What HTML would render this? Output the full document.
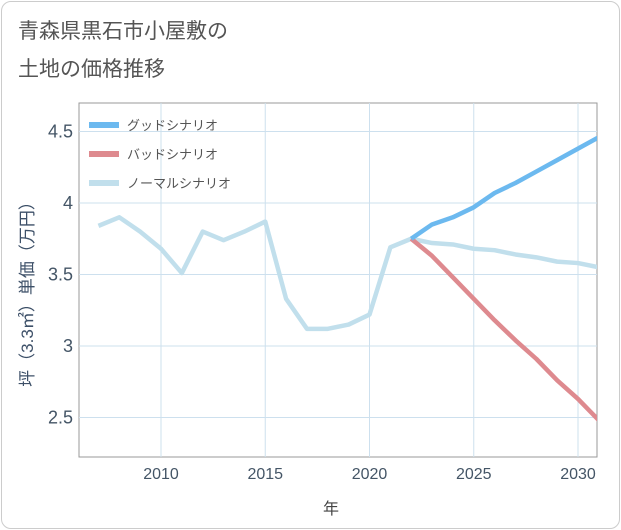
<!DOCTYPE html>
<html><head><meta charset="utf-8"><style>
body{margin:0;background:#fff;font-family:"Liberation Sans","Noto Sans CJK JP",sans-serif}
#card{position:absolute;left:1px;top:1px;width:617px;height:526px;border:1px solid #ccc;border-radius:10px;background:#fff}
</style></head><body>
<div id="card"></div>
<svg id="c" width="621" height="530" style="position:absolute;left:0;top:0" font-family="Liberation Sans, Noto Sans CJK JP, sans-serif">
<text x="18" y="38" font-size="21" fill="#555">青森県黒石市小屋敷の</text>
<text x="18" y="76" font-size="21" fill="#555">土地の価格推移</text>
<g id="grid"></g><g id="lines"></g><g id="legend"></g>
<text x="331" y="514" font-size="16" fill="#444" text-anchor="middle">年</text>
<text transform="translate(33,290) rotate(-90)" font-size="17" fill="#3d5068" text-anchor="middle">坪（3.3㎡）単価（万円）</text>
</svg>
<script>
const years=[2007,2008,2009,2010,2011,2012,2013,2014,2015,2016,2017,2018,2019,2020,2021,2022,2023,2024,2025,2026,2027,2028,2029,2030,2031];
const normal=[3.84,3.90,3.80,3.68,3.51,3.80,3.74,3.80,3.87,3.33,3.12,3.12,3.15,3.22,3.69,3.75,3.72,3.71,3.68,3.67,3.64,3.62,3.59,3.58,3.55];
const fYears=[2022,2023,2024,2025,2026,2027,2028,2029,2030,2031];
const good=[3.75,3.85,3.90,3.97,4.07,4.14,4.22,4.30,4.38,4.46];
const bad=[3.75,3.63,3.48,3.33,3.18,3.04,2.91,2.76,2.63,2.48];
const xTicks=[2010,2015,2020,2025,2030];
const yTicks=[2.5,3,3.5,4,4.5];
const L=79,R=597,T=103,B=457;
const x=v=>161+(v-2010)*20.85;
const y=v=>203-(v-4)*143;
const NS="http://www.w3.org/2000/svg";
function mk(p,t,a){const e=document.createElementNS(NS,t);for(const k in a)e.setAttribute(k,a[k]);p.appendChild(e);return e;}
const g=document.getElementById('grid');
const frame=mk(g,'rect',{x:L,y:T,width:R-L,height:B-T,fill:'none',stroke:'#999','stroke-width':1});


xTicks.forEach(v=>{
 const l=mk(g,'line',{x1:x(v),x2:x(v),y1:T,y2:B,stroke:'#cde0ee'});
 
 
 const t=mk(g,'text',{x:x(v),y:B+22,'font-size':16,fill:'#445566','text-anchor':'middle'});t.textContent=v;
 
 
});
yTicks.forEach(v=>{
 const l=mk(g,'line',{x1:L,x2:R,y1:y(v),y2:y(v),stroke:'#cde0ee'});
 
 
 const t=mk(g,'text',{x:L-6,y:y(v)+6,'font-size':18,fill:'#445566','text-anchor':'end'});t.textContent=v;
 
 
});
const ln=document.getElementById('lines');
function series(xs,ys,color,name){
 const p=mk(ln,'polyline',{points:xs.map((v,i)=>x(v)+','+y(ys[i])).join(' '),fill:'none',stroke:color,'stroke-width':4.5,'stroke-linejoin':'round'});
 
 
}
const cp=mk(ln,'clipPath',{id:'cp'});mk(cp,'rect',{x:L,y:T,width:R-L,height:B-T});
ln.setAttribute('clip-path','url(#cp)');
series(years,normal,'#c1dfec','normal-scenario-line');
series(fYears,bad,'#de8a8f','bad-scenario-line');
series(fYears,good,'#6cb9ef','good-scenario-line');
const lg=document.getElementById('legend');
[['グッドシナリオ','#6cb9ef'],['バッドシナリオ','#de8a8f'],['ノーマルシナリオ','#c1dfec']].forEach((d,i)=>{
 const yy=125+i*29;
 const r=mk(lg,'rect',{x:89,y:yy-3,width:30,height:6,fill:d[1]});
 
 
 const t=mk(lg,'text',{x:127,y:yy+5,'font-size':13,fill:'#555'});t.textContent=d[0];
 
 
});
</script>
</body></html>
